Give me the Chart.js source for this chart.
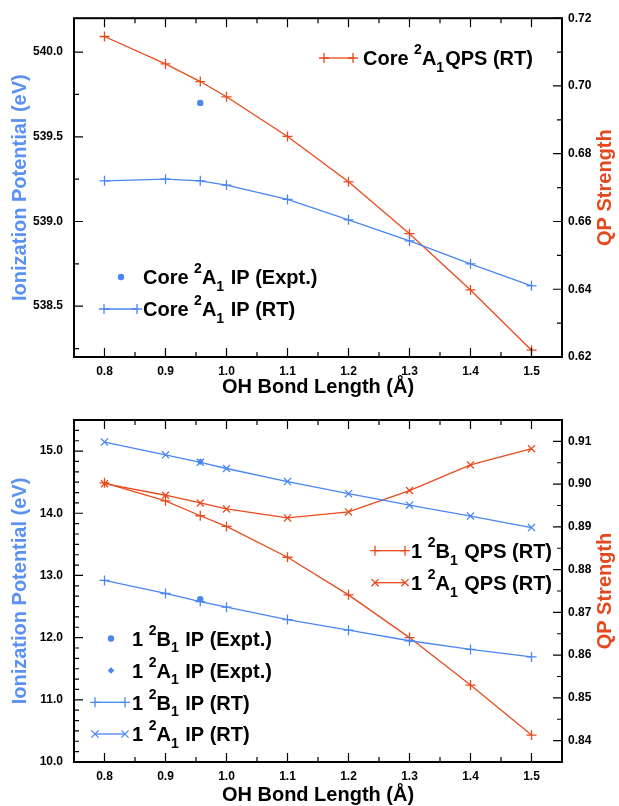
<!DOCTYPE html>
<html>
<head>
<meta charset="utf-8">
<script src="https://cdn.jsdelivr.net/npm/chart.js@4.4.0/dist/chart.umd.min.js"></script>
<style>
  body { margin: 0; background: #fff; }
  .panel { position: absolute; left: 0; }
</style>
</head>
<body>
<div class="panel" style="top:0px"><canvas id="coreChart" width="619" height="400"></canvas></div>
<div class="panel" style="top:400px"><canvas id="valChart" width="619" height="406"></canvas></div>
<script>
// bond lengths (Angstrom)
var bondLen = [0.8, 0.9, 0.957, 1.0, 1.1, 1.2, 1.3, 1.4, 1.5];
var exptLen = [0.957];
var xTicks = [0.8, 0.9, 1.0, 1.1, 1.2, 1.3, 1.4, 1.5];

// top panel: core 2A1
var coreIP = [539.24, 539.25, 539.24, 539.215, 539.13, 539.01, 538.885, 538.75, 538.62];
var coreQPS = [0.7146, 0.7065, 0.7013, 0.6968, 0.6851, 0.6717, 0.6564, 0.6398, 0.6220];
var coreExpt = [539.70];
var coreIPTicks = [538.5, 539.0, 539.5, 540.0];
var coreQPSTicks = [0.62, 0.64, 0.66, 0.68, 0.70, 0.72];

// bottom panel: valence 1 2B1 / 1 2A1
var b1IP = [12.92, 12.71, 12.58, 12.49, 12.29, 12.12, 11.95, 11.81, 11.69];
var a1IP = [15.145, 14.94, 14.82, 14.72, 14.51, 14.315, 14.13, 13.955, 13.77];
var b1QPS = [0.9003, 0.8961, 0.8926, 0.8901, 0.8829, 0.8741, 0.8641, 0.8530, 0.8413];
var a1QPS = [0.9001, 0.8974, 0.8956, 0.8942, 0.8921, 0.8935, 0.8985, 0.9045, 0.9083];
var b1Expt = [12.62];
var a1Expt = [14.83];
var valIPTicks = [10, 11, 12, 13, 14, 15];
var valQPSTicks = [0.84, 0.85, 0.86, 0.87, 0.88, 0.89, 0.90, 0.91];

var BLUE = '#4a86f2';
var RED = '#e84a1c';
var BLUE_T = '#5b91f2';
var RED_T = '#e4481c';
var FONT = '"Liberation Sans", Arial, Helvetica, sans-serif';

Chart.defaults.font.family = FONT;
Chart.defaults.font.weight = 'bold';
Chart.defaults.font.size = 12;
Chart.defaults.color = '#000';

function pts(xs, ys) {
  return xs.map(function (x, i) { return { x: x, y: ys[i] }; });
}

// text with ^c superscript and _c subscript
function richText(ctx, str, x, y) {
  var i = 0, cx = x;
  while (i < str.length) {
    var c = str[i], txt, size = 20, dy = 0;
    if ((c === '^' || c === '_') && i + 1 < str.length) {
      txt = str[i + 1]; size = 14; dy = (c === '^') ? -11 : 6.5; i += 2;
    } else {
      var j = i;
      while (j < str.length && str[j] !== '^' && str[j] !== '_') j++;
      txt = str.slice(i, j); i = j;
    }
    ctx.font = 'bold ' + size + 'px ' + FONT;
    ctx.fillText(txt, cx, y + dy);
    cx += ctx.measureText(txt).width + (size === 14 && dy > 0 ? 1 : 0);
  }
}

function drawMarker(ctx, style, x, y, color) {
  ctx.save();
  ctx.strokeStyle = color; ctx.fillStyle = color; ctx.lineWidth = 1.3;
  ctx.beginPath();
  if (style === 'dot') {
    ctx.arc(x, y, 3.2, 0, Math.PI * 2); ctx.fill();
  } else if (style === 'diamond') {
    ctx.moveTo(x, y - 3.3); ctx.lineTo(x + 3.3, y); ctx.lineTo(x, y + 3.3); ctx.lineTo(x - 3.3, y); ctx.closePath(); ctx.fill();
  } else if (style === 'cross') {
    ctx.moveTo(x - 5, y); ctx.lineTo(x + 5, y); ctx.moveTo(x, y - 5); ctx.lineTo(x, y + 5); ctx.stroke();
  } else if (style === 'crossRot') {
    ctx.moveTo(x - 3.6, y - 3.6); ctx.lineTo(x + 3.6, y + 3.6); ctx.moveTo(x - 3.6, y + 3.6); ctx.lineTo(x + 3.6, y - 3.6); ctx.stroke();
  }
  ctx.restore();
}

var framePlugin = {
  id: 'frame',
  afterDraw: function (chart, args, o) {
    var ctx = chart.ctx, a = chart.chartArea;
    var xs = chart.scales.x, yl = chart.scales.yL, yr = chart.scales.yR;
    ctx.save();
    ctx.strokeStyle = '#000';
    ctx.lineWidth = 1.2;

    function tickList(scale, majors, minorStep) {
      var list = [];
      var start = Math.ceil((scale.min - 1e-9) / minorStep) * minorStep;
      for (var v = start; v <= scale.max + 1e-9; v += minorStep) {
        var major = majors.some(function (m) { return Math.abs(m - v) < 1e-6; });
        list.push({ p: scale.getPixelForValue(v), major: major });
      }
      return list;
    }
    ctx.beginPath();
    tickList(xs, o.xMajors, o.xMinor).forEach(function (t) {
      var len = t.major ? 9 : 5;
      ctx.moveTo(t.p, a.bottom); ctx.lineTo(t.p, a.bottom - len);
      ctx.moveTo(t.p, a.top); ctx.lineTo(t.p, a.top + len);
    });
    tickList(yl, o.lMajors, o.lMinor).forEach(function (t) {
      var len = t.major ? 9 : 5;
      ctx.moveTo(a.left, t.p); ctx.lineTo(a.left + len, t.p);
    });
    tickList(yr, o.rMajors, o.rMinor).forEach(function (t) {
      var len = t.major ? 9 : 5;
      ctx.moveTo(a.right, t.p); ctx.lineTo(a.right - len, t.p);
    });
    ctx.stroke();

    ctx.lineWidth = 2;
    ctx.strokeRect(a.left, a.top, a.right - a.left, a.bottom - a.top);

    // axis titles
    ctx.font = 'bold 20px ' + FONT;
    ctx.textAlign = 'center';
    ctx.textBaseline = 'middle';
    ctx.fillStyle = '#000';
    ctx.fillText('OH Bond Length (\u00c5)', (a.left + a.right) / 2, a.bottom + o.xTitleGap);
    var cy = (a.top + a.bottom) / 2;
    ctx.save();
    ctx.translate(20, cy); ctx.rotate(-Math.PI / 2);
    ctx.fillStyle = BLUE_T;
    ctx.fillText('Ionization Potential (eV)', 0, 0);
    ctx.restore();
    ctx.save();
    ctx.translate(605, cy); ctx.rotate(-Math.PI / 2);
    ctx.fillStyle = RED_T;
    ctx.fillText('QP Strength', 0, 0);
    ctx.restore();

    // legend entries
    ctx.textAlign = 'left';
    ctx.textBaseline = 'alphabetic';
    ctx.fillStyle = '#000';
    o.legend.forEach(function (it) {
      if (it.line) {
        ctx.save();
        ctx.strokeStyle = it.color; ctx.lineWidth = 1.3;
        ctx.beginPath(); ctx.moveTo(it.x0, it.y); ctx.lineTo(it.x1, it.y); ctx.stroke();
        ctx.restore();
        drawMarker(ctx, it.marker, it.x0, it.y, it.color);
        drawMarker(ctx, it.marker, it.x1, it.y, it.color);
      } else {
        drawMarker(ctx, it.marker, it.x0, it.y, it.color);
      }
      ctx.fillStyle = '#000';
      richText(ctx, it.text, it.tx, it.y + 7.3);
    });
    ctx.restore();
  }
};

function lineSet(label, xs, ys, color, style, axis) {
  return {
    label: label, data: pts(xs, ys), yAxisID: axis,
    borderColor: color, backgroundColor: color, borderWidth: 1.3,
    pointStyle: style, pointRadius: 5, pointBorderWidth: 1.3, pointHoverRadius: 5,
    showLine: true, tension: 0
  };
}
function exptSet(label, xs, ys, color, style, r) {
  return {
    label: label, data: pts(xs, ys), yAxisID: 'yL',
    borderColor: color, backgroundColor: color, borderWidth: 0,
    pointStyle: style, pointRadius: r, showLine: false
  };
}

function makePanel(id, datasets, sc, frameOpts, pad) {
  return new Chart(document.getElementById(id), {
    type: 'line',
    data: { datasets: datasets },
    options: {
      responsive: false,
      animation: false,
      layout: { padding: { top: pad.top, left: 0, right: 0, bottom: 0 } },
      plugins: { legend: { display: false }, tooltip: { enabled: false }, frame: frameOpts },
      scales: {
        x: {
          type: 'linear', min: 0.75, max: 1.55,
          grid: { display: false, drawTicks: false }, border: { display: false },
          afterBuildTicks: function (s) { s.ticks = xTicks.map(function (v) { return { value: v }; }); },
          afterFit: function (s) { s.height = pad.xh; },
          ticks: { padding: 7, callback: function (v) { return v.toFixed(1); } }
        },
        yL: {
          position: 'left', min: sc.lMin, max: sc.lMax,
          grid: { display: false, drawTicks: false }, border: { display: false },
          afterBuildTicks: function (s) { s.ticks = sc.lTicks.map(function (v) { return { value: v }; }); },
          afterFit: function (s) { s.width = 74; },
          ticks: { padding: 11, callback: function (v) { return v.toFixed(1); } }
        },
        yR: {
          position: 'right', min: sc.rMin, max: sc.rMax,
          grid: { display: false, drawTicks: false }, border: { display: false },
          afterBuildTicks: function (s) { s.ticks = sc.rTicks.map(function (v) { return { value: v }; }); },
          afterFit: function (s) { s.width = 57; },
          ticks: { padding: 6, callback: function (v) { return v.toFixed(2); } }
        }
      }
    },
    plugins: [framePlugin]
  });
}

makePanel('coreChart', [
  exptSet('Core 2A1 IP (Expt.)', exptLen, coreExpt, BLUE, 'circle', 3.2),
  lineSet('Core 2A1 IP (RT)', bondLen, coreIP, BLUE, 'cross', 'yL'),
  lineSet('Core 2A1 QPS (RT)', bondLen, coreQPS, RED, 'cross', 'yR')
], {
  lMin: 538.2, lMax: 540.2, lTicks: coreIPTicks,
  rMin: 0.62, rMax: 0.72, rTicks: coreQPSTicks
}, {
  xMajors: xTicks, xMinor: 0.05,
  lMajors: coreIPTicks, lMinor: 0.25,
  rMajors: coreQPSTicks, rMinor: 0.01,
  xTitleGap: 30,
  legend: [
    { marker: 'dot', color: BLUE, x0: 121, y: 277, tx: 143, text: 'Core ^2A_1 IP (Expt.)' },
    { marker: 'cross', line: true, color: BLUE, x0: 104, x1: 137, y: 309, tx: 143, text: 'Core ^2A_1 IP (RT)' },
    { marker: 'cross', line: true, color: RED, x0: 324, x1: 353, y: 58, tx: 363, text: 'Core ^2A_1QPS (RT)' }
  ]
}, { top: 15, xh: 43 });

makePanel('valChart', [
  exptSet('1 2B1 IP (Expt.)', exptLen, b1Expt, BLUE, 'circle', 3.2),
  exptSet('1 2A1 IP (Expt.)', exptLen, a1Expt, BLUE, 'rectRot', 3.3),
  lineSet('1 2B1 IP (RT)', bondLen, b1IP, BLUE, 'cross', 'yL'),
  lineSet('1 2A1 IP (RT)', bondLen, a1IP, BLUE, 'crossRot', 'yL'),
  lineSet('1 2B1 QPS (RT)', bondLen, b1QPS, RED, 'cross', 'yR'),
  lineSet('1 2A1 QPS (RT)', bondLen, a1QPS, RED, 'crossRot', 'yR')
], {
  lMin: 10, lMax: 15.5, lTicks: valIPTicks,
  rMin: 0.835, rMax: 0.915, rTicks: valQPSTicks
}, {
  xMajors: xTicks, xMinor: 0.05,
  lMajors: valIPTicks, lMinor: 1 / 6,
  rMajors: valQPSTicks, rMinor: 0.005,
  xTitleGap: 33,
  legend: [
    { marker: 'dot', color: BLUE, x0: 111, y: 238.5, tx: 132, text: '1 ^2B_1 IP (Expt.)' },
    { marker: 'diamond', color: BLUE, x0: 111, y: 270.5, tx: 132, text: '1 ^2A_1 IP (Expt.)' },
    { marker: 'cross', line: true, color: BLUE, x0: 95, x1: 125, y: 302.3, tx: 132, text: '1 ^2B_1 IP (RT)' },
    { marker: 'crossRot', line: true, color: BLUE, x0: 95, x1: 125, y: 334, tx: 132, text: '1 ^2A_1 IP (RT)' },
    { marker: 'cross', line: true, color: RED, x0: 375, x1: 405, y: 150.7, tx: 411, text: '1 ^2B_1 QPS (RT)' },
    { marker: 'crossRot', line: true, color: RED, x0: 375, x1: 405, y: 182.7, tx: 411, text: '1 ^2A_1 QPS (RT)' }
  ]
}, { top: 20, xh: 44 });
</script>
</body>
</html>
